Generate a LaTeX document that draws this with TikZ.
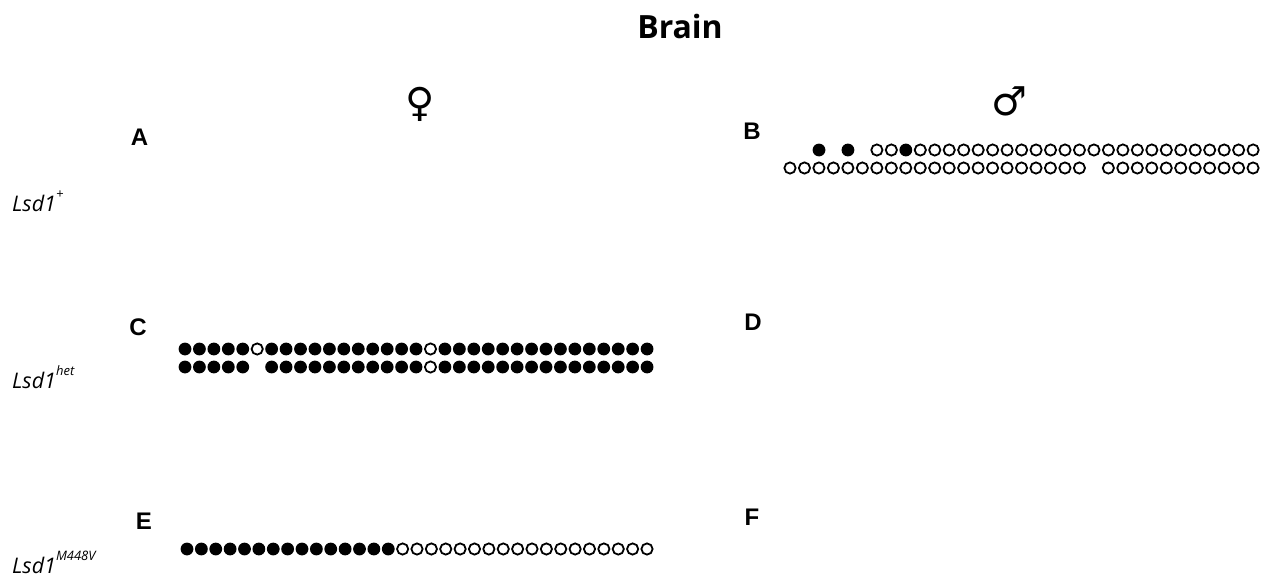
\documentclass[tikz,border=0pt]{standalone}
\usepackage{fontspec}
\setmainfont{Open Sans}
\newfontfamily\lettersfont{Liberation Sans}
\newfontfamily\symfont{DejaVu Sans}
\newcommand{\dotrow}[4]{%
  \foreach \t [count=\i from 0] in {#4} {%
    \if\t F\fill[fdot] ({#2+\i*#3},#1) circle (6.4);\fi
    \if\t O\draw[odot] ({#2+\i*#3},#1) circle (5.6);\fi
  }%
}
\newcommand{\genosup}[1]{\raisebox{13pt}{\fontsize{13}{14}\selectfont #1}}
\begin{document}
\begin{tikzpicture}[x=1pt,y=-1pt,
  fdot/.style={fill=black},
  odot/.style={draw=black,line width=1.8pt,fill=white},
  panel/.style={font=\lettersfont\bfseries\fontsize{24}{26}\selectfont,inner sep=0pt},
  geno/.style={font=\itshape\fontsize{21.5}{24}\selectfont,inner sep=0pt,anchor=base west},
  sexsym/.style={font=\symfont\fontsize{40}{42}\selectfont,inner sep=0pt}]
\useasboundingbox[fill=white] (0,0) rectangle (1263,578);
\node[font=\bfseries\fontsize{32}{34}\selectfont,inner sep=0pt,anchor=base] (title) at (680,38) {Brain};
\node[sexsym] (female) at (420,104) {♀};
\node[sexsym] (male) at (1009,101) {♂};
\node[panel] (A) at (139.5,137.5) {A};
\node[panel] (B) at (752,131) {B};
\node[panel] (C) at (138,327) {C};
\node[panel] (D) at (753,322) {D};
\node[panel] (E) at (144,521) {E};
\node[panel] (F) at (752,517) {F};
\node[geno] (g1) at (12,211) {Lsd1\genosup{+}};
\node[geno] (g2) at (12,388) {Lsd1\genosup{het}};
\node[geno] (g3) at (12,573) {Lsd1\genosup{M448V}};
% B
\dotrow{150}{819}{14.47}{F,N,F,N,O,O,F,O,O,O,O,O,O,O,O,O,O,O,O,O,O,O,O,O,O,O,O,O,O,O,O}
\dotrow{168}{790}{14.47}{O,O,O,O,O,O,O,O,O,O,O,O,O,O,O,O,O,O,O,O,O,N,O,O,O,O,O,O,O,O,O,O,O}
% C
\dotrow{349}{185}{14.44}{F,F,F,F,F,O,F,F,F,F,F,F,F,F,F,F,F,O,F,F,F,F,F,F,F,F,F,F,F,F,F,F,F}
\dotrow{367}{185}{14.44}{F,F,F,F,F,N,F,F,F,F,F,F,F,F,F,F,F,O,F,F,F,F,F,F,F,F,F,F,F,F,F,F,F}
% E
\dotrow{549}{187}{14.375}{F,F,F,F,F,F,F,F,F,F,F,F,F,F,F,O,O,O,O,O,O,O,O,O,O,O,O,O,O,O,O,O,O}
\end{tikzpicture}
\end{document}
